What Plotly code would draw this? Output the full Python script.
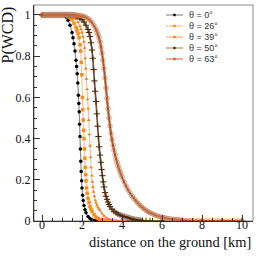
import plotly.graph_objects as go

# ---------------- data ----------------
labels = ["θ = 0°", "θ = 26°", "θ = 39°", "θ = 50°", "θ = 63°"]

dist_0 = [0.0, 0.1, 0.2, 0.3, 0.4, 0.5, 0.6, 0.7, 0.8, 0.9, 1.0,
          1.1, 1.2, 1.3, 1.4, 1.5, 1.55, 1.6, 1.65, 1.7, 1.73, 1.76, 1.79,
          1.82, 1.84, 1.86, 1.88, 1.9, 1.92, 1.94, 1.96, 1.98, 2.0, 2.03,
          2.06, 2.1, 2.15, 2.2, 2.3, 2.4, 2.5, 2.6, 2.7, 2.8, 3.0, 4.0,
          5.0, 6.0, 7.0, 8.0, 9.0, 10.0]
pwcd_0 = [1.0, 1.0, 1.0, 1.0, 1.0, 1.0, 1.0, 1.0, 1.0, 1.0, 1.0,
          0.997, 0.99, 0.975, 0.95, 0.915, 0.89, 0.86, 0.825, 0.78, 0.75,
          0.715, 0.67, 0.61, 0.57, 0.53, 0.47, 0.41, 0.35, 0.29, 0.24,
          0.195, 0.16, 0.125, 0.1, 0.075, 0.055, 0.04, 0.022, 0.012, 0.006,
          0.003, 0.001, 0.0, 0.0, 0.0, 0.0, 0.0, 0.0, 0.0, 0.0, 0.0]

dist_26 = [0.0, 0.1, 0.2, 0.3, 0.4, 0.5, 0.6, 0.7, 0.8, 0.9, 1.0, 1.1,
           1.2, 1.3, 1.4, 1.5, 1.6, 1.7, 1.75, 1.8, 1.85, 1.9, 1.93, 1.96,
           1.99, 2.02, 2.04, 2.06, 2.08, 2.1, 2.12, 2.14, 2.16, 2.18, 2.2,
           2.23, 2.26, 2.3, 2.35, 2.4, 2.45, 2.5, 2.6, 2.7, 2.8, 2.9, 3.0,
           3.1, 3.2, 3.3, 3.4, 4.0, 5.0, 6.0, 7.0, 8.0, 9.0, 10.0]
pwcd_26 = [1.0, 1.0, 1.0, 1.0, 1.0, 1.0, 1.0, 1.0, 1.0, 1.0, 1.0, 1.0,
           0.998, 0.995, 0.988, 0.977, 0.96, 0.94, 0.925, 0.91, 0.89, 0.855,
           0.825, 0.77, 0.71, 0.6, 0.54, 0.49, 0.44, 0.4, 0.35, 0.305, 0.26,
           0.225, 0.195, 0.16, 0.135, 0.11, 0.09, 0.07, 0.058, 0.046, 0.03,
           0.019, 0.012, 0.008, 0.005, 0.003, 0.002, 0.001, 0.0, 0.0, 0.0,
           0.0, 0.0, 0.0, 0.0, 0.0]

dist_39 = [0.0, 0.1, 0.2, 0.3, 0.4, 0.5, 0.6, 0.7, 0.8, 0.9, 1.0, 1.1,
           1.2, 1.3, 1.4, 1.5, 1.6, 1.7, 1.8, 1.9, 1.95, 2.0, 2.05, 2.1,
           2.13, 2.16, 2.19, 2.22, 2.25, 2.28, 2.31, 2.34, 2.37, 2.4, 2.43,
           2.46, 2.49, 2.52, 2.55, 2.58, 2.62, 2.66, 2.7, 2.75, 2.8, 2.85,
           2.9, 3.0, 3.1, 3.2, 3.3, 3.4, 3.5, 3.6, 3.7, 3.8, 3.9, 4.5, 5.0,
           6.0, 7.0, 8.0, 9.0, 10.0]
pwcd_39 = [1.0, 1.0, 1.0, 1.0, 1.0, 1.0, 1.0, 1.0, 1.0, 1.0, 1.0, 1.0,
           1.0, 1.0, 0.998, 0.995, 0.99, 0.98, 0.965, 0.945, 0.93, 0.915,
           0.895, 0.87, 0.84, 0.79, 0.74, 0.69, 0.64, 0.59, 0.545, 0.49,
           0.42, 0.365, 0.31, 0.26, 0.22, 0.19, 0.165, 0.142, 0.12, 0.1,
           0.088, 0.076, 0.066, 0.058, 0.05, 0.036, 0.025, 0.016, 0.01,
           0.007, 0.005, 0.003, 0.002, 0.001, 0.0, 0.0, 0.0, 0.0, 0.0, 0.0,
           0.0, 0.0]

dist_50 = [0.0, 0.1, 0.2, 0.3, 0.4, 0.5, 0.6, 0.7, 0.8, 0.9, 1.0, 1.1,
           1.2, 1.3, 1.4, 1.5, 1.6, 1.7, 1.8, 1.9, 2.0, 2.1, 2.2, 2.3,
           2.35, 2.4, 2.45, 2.5, 2.54, 2.58, 2.62, 2.66, 2.7, 2.74, 2.78,
           2.82, 2.86, 2.9, 2.94, 2.98, 3.02, 3.06, 3.1, 3.15, 3.2, 3.25,
           3.3, 3.35, 3.4, 3.5, 3.6, 3.7, 3.8, 3.9, 4.0, 4.1, 4.2, 4.3, 4.4,
           4.5, 4.6, 4.7, 4.8, 4.9, 5.0, 5.2, 5.4, 6.0, 7.0, 8.0, 9.0, 10.0]
pwcd_50 = [1.0, 1.0, 1.0, 1.0, 1.0, 1.0, 1.0, 1.0, 1.0, 1.0, 1.0, 1.0,
           1.0, 1.0, 1.0, 1.0, 0.998, 0.996, 0.992, 0.985, 0.977, 0.966,
           0.95, 0.93, 0.915, 0.895, 0.865, 0.83, 0.79, 0.735, 0.68, 0.63,
           0.58, 0.52, 0.46, 0.41, 0.36, 0.32, 0.285, 0.25, 0.22, 0.19,
           0.165, 0.138, 0.12, 0.105, 0.092, 0.08, 0.07, 0.057, 0.047, 0.04,
           0.034, 0.029, 0.025, 0.022, 0.019, 0.016, 0.013, 0.01, 0.008,
           0.006, 0.004, 0.003, 0.002, 0.001, 0.0, 0.0, 0.0, 0.0, 0.0, 0.0]

dist_63 = [0.0, 0.1, 0.2, 0.3, 0.4, 0.5, 0.6, 0.7, 0.8, 0.9, 1.0, 1.1,
           1.2, 1.3, 1.4, 1.5, 1.6, 1.7, 1.8, 1.9, 2.0, 2.1, 2.2, 2.3, 2.4,
           2.5, 2.6, 2.7, 2.75, 2.8, 2.85, 2.9, 2.95, 3.0, 3.05, 3.1, 3.15,
           3.2, 3.25, 3.3, 3.35, 3.4, 3.45, 3.5, 3.55, 3.6, 3.65, 3.7, 3.75,
           3.8, 3.85, 3.9, 3.95, 4.0, 4.1, 4.2, 4.3, 4.4, 4.5, 4.6, 4.7,
           4.8, 4.9, 5.0, 5.1, 5.2, 5.3, 5.4, 5.5, 5.6, 5.7, 5.8, 5.9, 6.0,
           6.1, 6.2, 6.3, 6.4, 6.5, 6.6, 6.7, 6.8, 6.9, 7.0, 7.2, 7.4, 7.6,
           7.8, 8.0, 8.2, 8.4, 8.6, 8.8, 9.0, 9.2, 9.4, 9.6, 9.8, 10.0]
pwcd_63 = [1.0, 1.0, 1.0, 1.0, 1.0, 1.0, 1.0, 1.0, 1.0, 1.0, 1.0, 1.0,
           1.0, 1.0, 1.0, 1.0, 1.0, 1.0, 0.999, 0.998, 0.996, 0.993, 0.988,
           0.982, 0.974, 0.963, 0.948, 0.93, 0.918, 0.905, 0.89, 0.87,
           0.845, 0.815, 0.78, 0.74, 0.695, 0.645, 0.595, 0.545, 0.5, 0.46,
           0.425, 0.395, 0.368, 0.344, 0.322, 0.302, 0.285, 0.268, 0.253,
           0.239, 0.226, 0.213, 0.19, 0.17, 0.152, 0.136, 0.122, 0.109,
           0.097, 0.086, 0.076, 0.067, 0.059, 0.052, 0.046, 0.04, 0.035,
           0.031, 0.027, 0.024, 0.021, 0.018, 0.016, 0.014, 0.012, 0.01,
           0.009, 0.008, 0.007, 0.006, 0.005, 0.004, 0.003, 0.002, 0.001,
           0.001, 0.0, 0.0, 0.0, 0.0, 0.0, 0.0, 0.0, 0.0, 0.0, 0.0, 0.0]

x_ticks = [0, 2, 4, 6, 8, 10]
y_ticks = [0, 0.2, 0.4, 0.6, 0.8, 1]

# ---------------- styles ----------------
# (x, y, symbol, size, marker colour, line colour, line width, marker opacity)
series = [
    (dist_0, pwcd_0, "circle", 3.5, "#000000", "rgba(0,0,0,0.45)", 1.2, 1.0),
    (dist_26, pwcd_26, "square", 3.5, "#FF8A12", "rgba(255,150,40,0.55)", 1.2, 1.0),
    (dist_39, pwcd_39, "triangle-up", 3.5, "#E8842A", "rgba(232,140,60,0.55)", 1.2, 1.0),
    (dist_50, pwcd_50, "cross-thin-open", 4.5, "#4E2804", "rgba(80,40,5,0.8)", 1.7, 1.0),
    (dist_63, pwcd_63, "circle-open", 4.5, "#CC8660", "rgba(168,58,8,0.9)", 2.2, 0.8),
]
legend_line = ["#9a9a9a", "#ffc488", "#f2b583", "#b39a80", "#cf8c6c"]
legend_mark = ["#000000", "#FF8A12", "#E8842A", "#5A2E05", "#C06A40"]

fig = go.Figure()
for (xs, ys, sym, sz, mc, lc, lw, op), name in zip(series, labels):
    mline = dict(width=1, color=mc) if "open" in sym else dict(width=0)
    fig.add_trace(go.Scatter(
        x=xs, y=ys, mode="lines+markers", name=name, showlegend=False,
        line=dict(color=lc, width=lw, shape="spline", smoothing=0.6),
        marker=dict(symbol=sym, size=sz, color=mc, opacity=op, line=mline),
    ))

W, H = 266, 261
L, R, T, B = 34, 13, 5, 40
pw, ph = W - L - R, H - T - B

shapes = [dict(type="rect", xref="paper", yref="paper", x0=0, y0=0, x1=1, y1=1,
               line=dict(color="#8a8a8a", width=1), layer="below")]
annotations = []
rows_px = [15, 26, 37, 48, 59]
for i, name in enumerate(labels):
    yp = (H - B - rows_px[i]) / ph
    x0 = (166 - L) / pw
    x1 = (183 - L) / pw
    xm = (174.5 - L) / pw
    shapes.append(dict(type="line", xref="paper", yref="paper", x0=x0, x1=x1,
                       y0=yp, y1=yp, line=dict(color=legend_line[i], width=1.3)))
    shapes.append(dict(type="rect", xref="paper", yref="paper",
                       xsizemode="pixel", ysizemode="pixel", xanchor=xm, yanchor=yp,
                       x0=-1.2, x1=1.2, y0=-1.2, y1=1.2,
                       fillcolor=legend_mark[i], line=dict(width=0)))
    annotations.append(dict(xref="paper", yref="paper", x=(187 - L) / pw, y=yp,
                            xanchor="left", yanchor="middle", showarrow=False,
                            text=name, font=dict(family="Liberation Sans", size=9, color="#333")))

annotations.append(dict(xref="paper", yref="paper", x=(7 - L) / pw, y=1.0,
                        xanchor="center", yanchor="top", showarrow=False, textangle=-90,
                        text="P(WCD)", font=dict(family="Liberation Serif", size=16, color="#111")))
annotations.append(dict(xref="paper", yref="paper", x=(253 - L) / pw, y=(H - B - 242) / ph,
                        xanchor="right", yanchor="middle", showarrow=False,
                        text="distance on the ground [km]",
                        font=dict(family="Liberation Serif", size=14.4, color="#111")))

fig.update_layout(
    width=W, height=H, margin=dict(l=L, r=R, t=T, b=B),
    paper_bgcolor="white", plot_bgcolor="white",
    shapes=shapes, annotations=annotations, showlegend=False,
    xaxis=dict(range=[-0.4, 10.55], tickvals=x_ticks, ticktext=[str(v) for v in x_ticks],
               ticks="inside", ticklen=6, tickcolor="#333", showgrid=False, zeroline=False,
               showline=True, linecolor="#333", linewidth=1, ticklabelstandoff=-7,
               tickfont=dict(family="Liberation Serif", size=12, color="#111"),
               minor=dict(dtick=0.5, tick0=0, ticks="inside", ticklen=3, tickcolor="#333", showgrid=False)),
    yaxis=dict(range=[0, 1.0485], tickvals=y_ticks, ticktext=["0", "0.2", "0.4", "0.6", "0.8", "1"],
               ticks="inside", ticklen=6, tickcolor="#333", showgrid=False, zeroline=False,
               showline=True, linecolor="#333", linewidth=1,
               tickfont=dict(family="Liberation Serif", size=12, color="#111"),
               minor=dict(dtick=0.05, tick0=0, ticks="inside", ticklen=3, tickcolor="#333", showgrid=False)),
)

fig.write_html("out.html", config={"displayModeBar": False},
               post_script="document.body.style.margin='0px';document.body.style.overflow='hidden';")
